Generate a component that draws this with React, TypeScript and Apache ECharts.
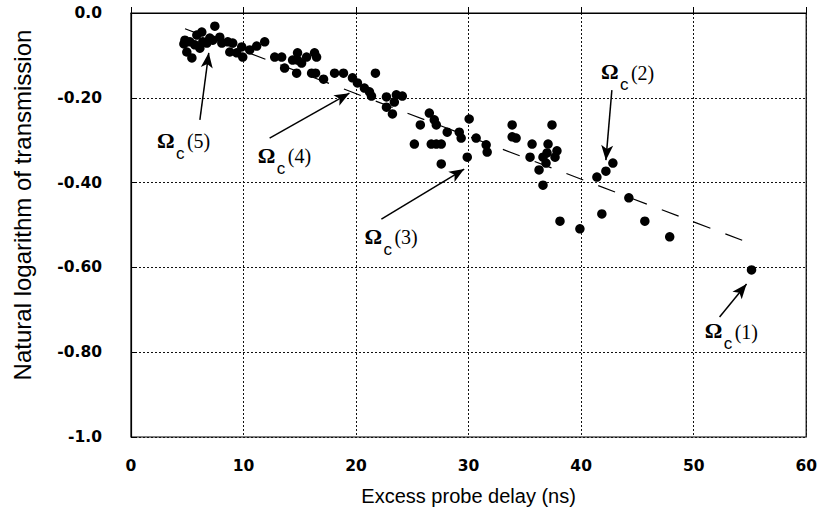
import React, { useEffect, useRef } from 'react';
import * as echarts from 'echarts';

// Excess probe delay (ns)
const delayNs = [
  4.96, 5.23, 5.41, 5.85, 6.29, 6.38, 7.0, 7.45, 7.89, 8.07, 8.6, 8.78, 9.04, 9.4, 9.84, 9.93,
  10.55, 11.17, 11.88, 4.7, 4.79, 5.67, 6.12, 6.74, 7.27,
  12.77, 13.39, 13.65, 14.36, 14.8, 14.8, 15.16, 15.6, 14.72, 16.31, 16.49, 16.05, 16.4, 17.11,
  18.09, 18.88, 19.68, 20.12, 20.74, 21.19, 21.37, 21.72,
  22.7, 23.58, 24.11, 22.7, 23.4, 23.23, 25.71, 26.51, 26.95, 27.13, 25.18, 26.68, 27.13, 27.57,
  27.57, 28.1, 29.17, 29.34, 30.05, 30.67, 29.88, 31.56, 31.65,
  33.87, 33.87, 34.22, 35.64, 35.46, 37.06, 37.41, 37.85, 36.97, 36.61, 37.68, 36.88, 36.26, 36.61,
  38.12, 39.89, 41.4, 42.2, 42.82, 41.84, 44.24, 45.66, 47.87, 55.14,
];
// Natural logarithm of transmission
const lnTransmission = [
  -0.092, -0.068, -0.106, -0.052, -0.045, -0.068, -0.059, -0.031, -0.057, -0.071, -0.068, -0.092, -0.071, -0.094, -0.08, -0.104,
  -0.087, -0.078, -0.068, -0.073, -0.064, -0.075, -0.083, -0.071, -0.064,
  -0.104, -0.104, -0.13, -0.111, -0.094, -0.111, -0.118, -0.104, -0.142, -0.094, -0.104, -0.142, -0.142, -0.156,
  -0.142, -0.142, -0.153, -0.165, -0.177, -0.186, -0.196, -0.142,
  -0.198, -0.193, -0.196, -0.222, -0.21, -0.238, -0.264, -0.236, -0.252, -0.264, -0.309, -0.309, -0.309, -0.309,
  -0.356, -0.281, -0.281, -0.295, -0.25, -0.295, -0.34, -0.311, -0.328,
  -0.264, -0.292, -0.295, -0.309, -0.34, -0.309, -0.264, -0.325, -0.33, -0.34, -0.34, -0.354, -0.37, -0.406,
  -0.491, -0.509, -0.387, -0.373, -0.354, -0.474, -0.436, -0.491, -0.528, -0.606,
];

// dashed fit line end points
const fitX = [4.8, 54.5];
const fitY = [-0.037, -0.538];

const xTickLabels = ['0', '10', '20', '30', '40', '50', '60'];
const yTickLabels = ['-1.0', '-0.80', '-0.60', '-0.40', '-0.20', '0.0'];

// annotations Ωc(n)
const annotationIds = ['5', '4', '3', '2', '1'];
const labelX = [2.3, 11.26, 20.74, 41.76, 50.98];
const labelY = [-0.3, -0.335, -0.527, -0.138, -0.749];
const tailX = [6.12, 12.32, 22.25, 42.73, 52.3];
const tailY = [-0.252, -0.295, -0.486, -0.182, -0.717];
const tipX = [6.91, 19.41, 29.61, 42.2, 54.7];
const tipY = [-0.094, -0.189, -0.368, -0.347, -0.639];

const tickFont = { fontFamily: 'DejaVu Sans', fontWeight: 'bold' as const, fontSize: 15.5, color: '#000' };

export default function App() {
  const ref = useRef<HTMLDivElement>(null);
  useEffect(() => {
    if (!ref.current) return;
    const chart = echarts.init(ref.current, null, { renderer: 'svg' });
    const points = delayNs.map((x, i) => [x, lnTransmission[i]]);
    chart.setOption({
      animation: false,
      backgroundColor: '#fff',
      grid: { left: 131, right: 12, top: 13, bottom: 79, show: true, borderColor: '#000', borderWidth: 1.2 },
      xAxis: {
        type: 'value',
        min: 0,
        max: 60,
        interval: 10,
        name: 'Excess probe delay (ns)',
        nameLocation: 'middle',
        nameGap: 49,
        nameTextStyle: { fontFamily: 'Liberation Sans', fontSize: 20, color: '#000' },
        axisLine: { show: true, lineStyle: { color: '#000', width: 1.2 } },
        axisTick: { show: true, inside: true, length: 6, lineStyle: { color: '#000' } },
        axisLabel: {
          ...tickFont,
          margin: 21,
          formatter: (_v: number, idx: number) => xTickLabels[idx],
        },
        splitLine: { show: true, lineStyle: { type: [2, 2], color: '#111', width: 1 } },
      },
      yAxis: {
        type: 'value',
        min: -1,
        max: 0,
        interval: 0.2,
        name: 'Natural logarithm of transmission',
        nameLocation: 'middle',
        nameRotate: 90,
        nameGap: 97,
        nameTextStyle: { fontFamily: 'Liberation Sans', fontSize: 24, color: '#000', padding: [0, 0, 0, 40] },
        axisLine: { show: true, lineStyle: { color: '#000', width: 1.2 } },
        axisTick: { show: true, inside: true, length: 6, lineStyle: { color: '#000' } },
        axisLabel: {
          ...tickFont,
          margin: 29,
          formatter: (_v: number, idx: number) => yTickLabels[idx],
        },
        splitLine: { show: true, lineStyle: { type: [2, 2], color: '#111', width: 1 } },
      },
      series: [
        {
          type: 'scatter',
          data: points,
          symbol: 'circle',
          symbolSize: 9.5,
          itemStyle: { color: '#000', opacity: 1 },
          silent: true,
        },
        {
          type: 'line',
          data: fitX.map((x, i) => [x, fitY[i]]),
          showSymbol: false,
          symbol: 'none',
          lineStyle: { type: [18, 16], width: 1.2, color: '#000' },
          silent: true,
          markLine: {
            silent: true,
            symbol: ['none', 'arrow'],
            symbolSize: [9, 15],
            label: { show: false },
            lineStyle: { type: 'solid', color: '#000', width: 1.5 },
            data: annotationIds.map((_, i) => [
              { coord: [tailX[i], tailY[i]] },
              { coord: [tipX[i], tipY[i]] },
            ]),
          },
        },
      ],
    });

    const graphics: any[] = [];
    annotationIds.forEach((id, i) => {
      const p = chart.convertToPixel({ gridIndex: 0 }, [labelX[i], labelY[i]]) as number[];
      graphics.push({
        type: 'group',
        x: p[0],
        y: p[1],
        silent: true,
        children: [
          {
            type: 'text',
            x: 0,
            y: 0,
            style: { text: 'Ω', fontFamily: 'Liberation Serif', fontWeight: 'bold', fontSize: 22, fill: '#000', align: 'left', verticalAlign: 'middle' },
          },
          {
            type: 'text',
            x: 19,
            y: 13,
            style: { text: 'c', fontFamily: 'Liberation Sans', fontSize: 17, fill: '#000', align: 'left', verticalAlign: 'middle' },
          },
          {
            type: 'text',
            x: 30,
            y: 1,
            style: { text: '(' + id + ')', fontFamily: 'Liberation Serif', fontSize: 20, fill: '#000', align: 'left', verticalAlign: 'middle' },
          },
        ],
      });
    });
    chart.setOption({ graphic: graphics });

    return () => chart.dispose();
  }, []);

  return (
    <div
      ref={ref}
      style={{ position: 'fixed', left: 0, top: 0, width: 820, height: 516, background: '#fff' }}
    />
  );
}
